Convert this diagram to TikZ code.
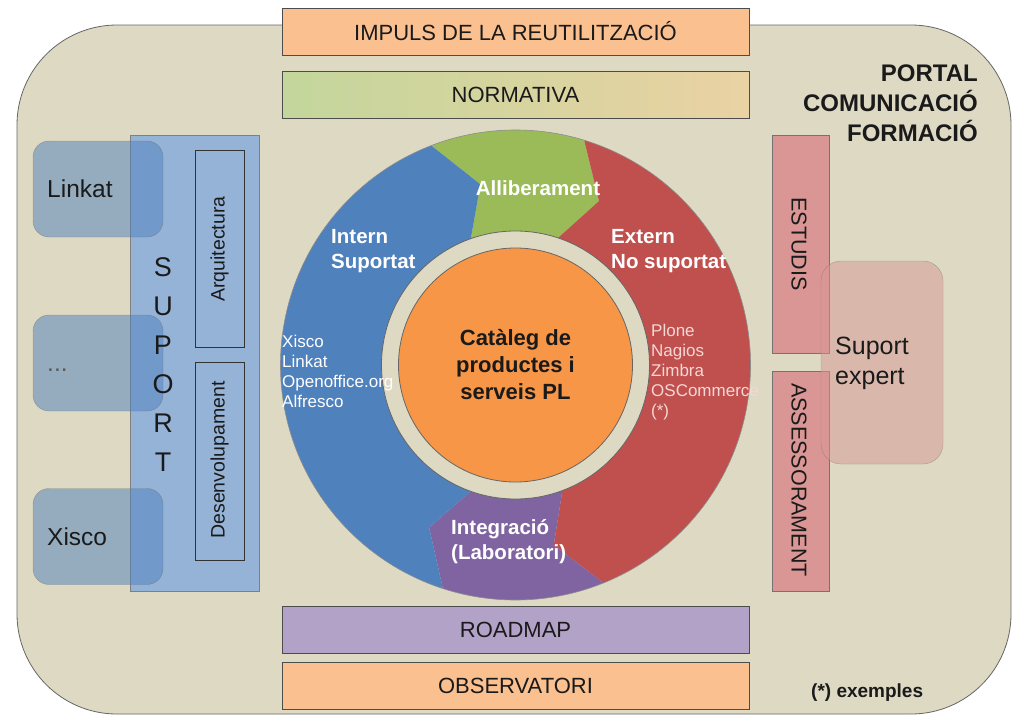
\documentclass[tikz,border=0pt]{standalone}
\usepackage{fontspec}
\setmainfont{Liberation Sans}
\usetikzlibrary{calc}
\definecolor{bg}{HTML}{DDD9C3}
\definecolor{lorange}{HTML}{FAC090}
\definecolor{lgreen}{HTML}{C3D69B}
\definecolor{lgreenM}{HTML}{CFD69F}
\definecolor{lgreenR}{HTML}{EAD2A3}
\definecolor{lavender}{HTML}{B3A2C7}
\definecolor{lblue}{HTML}{95B3D7}
\definecolor{blueA}{HTML}{4F81BD}
\definecolor{greenA}{HTML}{9BBB59}
\definecolor{redA}{HTML}{C0504D}
\definecolor{purpleA}{HTML}{8064A2}
\definecolor{orangeA}{HTML}{F79646}
\definecolor{pinkA}{HTML}{D99694}
\definecolor{palepink}{HTML}{F4D7D6}
\definecolor{ink}{HTML}{1A1A1A}
\def\Ro{235pt}\def\Rm{184pt}\def\Ri{128pt}
\newcommand{\ringseg}[3]{%
  \fill[#1] ($(C)+(#2:\Ro)$) arc[start angle=#2, end angle=#3, radius=\Ro]
    -- ($(C)+({#3-10}:\Rm)$) -- ($(C)+(#3:\Ri)$)
    arc[start angle=#3, end angle=#2, radius=\Ri]
    -- ($(C)+({#2-10}:\Rm)$) -- cycle;}
\tikzset{
  bar/.style={draw=black!70, line width=1pt, minimum width=467pt, minimum height=47pt,
    inner sep=0pt, font=\fontsize{22}{26}\selectfont, text=ink},
  sbox/.style={rounded corners=16pt, fill=blueA, fill opacity=0.5, draw=black!60,
    draw opacity=0.5, minimum width=130pt, minimum height=96pt, inner sep=0pt},
  slbl/.style={anchor=base west, font=\fontsize{24.5}{28}\selectfont, text=ink, inner sep=0pt},
  vbox/.style={draw=black!80, line width=0.8pt, minimum width=49pt, inner sep=0pt},
  vtxt/.style={font=\fontsize{19.5}{22}\selectfont, text=ink, inner sep=0pt},
  pbox/.style={fill=pinkA, draw=black!55, line width=0.8pt, minimum width=57pt, inner sep=0pt},
  ptxt/.style={font=\fontsize{21.5}{24}\selectfont, text=ink, inner sep=0pt, rotate=-90},
  letter/.style={font=\fontsize{27}{30}\selectfont, text=ink, inner sep=0pt},
  wl/.style={text=white, font=\bfseries\fontsize{20.5}{25}\selectfont, align=left, inner sep=0pt},
  wlist/.style={font=\fontsize{17}{20}\selectfont, align=left, inner sep=0pt}
}
\begin{document}
\begin{tikzpicture}[x=1pt,y=-1pt]
\useasboundingbox (0,0) rectangle (1015,715);
\fill[white] (0,0) rectangle (1015,715);
% outer portal
\draw[fill=bg, draw=black!60, line width=0.8pt, rounded corners=100pt] (17,25) rectangle (1011,714);

% horizontal bars
\node[bar, fill=lorange] (impuls) at (515.5,31.5) {IMPULS DE LA REUTILITZACIÓ};
\node[bar, left color=lgreen, middle color=lgreenM, right color=lgreenR] (normativa) at (515.5,94.5) {NORMATIVA};
\node[bar, fill=lavender] (roadmap) at (515.5,630) {ROADMAP};
\node[bar, fill=lorange] (observatori) at (515.5,685.5) {OBSERVATORI};

% portal title
\node[anchor=east, align=right, font=\bfseries\fontsize{24}{30}\selectfont, text=ink, inner sep=0pt]
  (portal) at (978,103) {PORTAL\\COMUNICACIÓ\\FORMACIÓ};

% SUPORT panel
\node[fill=lblue, draw=black!50, line width=0.8pt, minimum width=129pt, minimum height=456pt, inner sep=0pt]
  (suport) at (194.5,363) {};
\node[vbox, minimum height=197pt] (arq) at (219.5,248.5) {};
\node[vtxt, rotate=90] (arqT) at (219.5,249) {Arquitectura};
\node[vbox, minimum height=198pt] (des) at (219.5,461) {};
\node[vtxt, rotate=90] (desT) at (219.5,460) {Desenvolupament};

% left boxes
\node[sbox] (linkat) at (98,189) {};
\node[sbox] (dots) at (98,363) {};
\node[sbox] (xisco) at (98,536.5) {};
\node[slbl] (linkatT) at (47,197.5) {Linkat};
\node[slbl, text=black!65] (dotsT) at (47,371.5) {...};
\node[slbl] (xiscoT) at (47,545) {Xisco};

% SUPORT letters
\node[letter] (l1) at (163,267) {S};
\node[letter] (l2) at (163,306) {U};
\node[letter] (l3) at (163,345) {P};
\node[letter] (l4) at (163,384) {O};
\node[letter] (l5) at (163,423) {R};
\node[letter] (l6) at (163,462) {T};

% right boxes
\node[pbox, minimum height=218pt] (estudis) at (800.5,244) {};
\node[ptxt] (estudisT) at (799,244) {ESTUDIS};
\node[pbox, minimum height=220pt] (assess) at (800.5,481) {};
\node[ptxt] (assessT) at (799,480) {ASSESSORAMENT};
\node[rounded corners=20pt, fill=pinkA, fill opacity=0.5, draw=black!55, draw opacity=0.5,
  minimum width=122pt, minimum height=203pt, inner sep=0pt] (expert) at (882,362.5) {};
\node[anchor=west, align=left, font=\fontsize{25}{30}\selectfont, text=ink, inner sep=0pt]
  (expertT) at (835,363) {Suport\\expert};

% cycle
\coordinate (C) at (515.5,365);
\ringseg{greenA}{111}{73}
\ringseg{redA}{73}{-68}
\ringseg{purpleA}{-68}{-108}
\ringseg{blueA}{-108}{-249}
\draw[black!45, line width=0.6pt] (C) circle[radius=235pt];
\draw[fill=bg, draw=black!60, line width=0.8pt] (C) circle[radius=134pt];
\node[circle, fill=orangeA, draw=black!60, line width=0.8pt, minimum size=234pt, inner sep=0pt] (cat) at (C) {};
\node[align=center, font=\bfseries\fontsize{22}{27}\selectfont, text=ink, inner sep=0pt]
  (catT) at (515.5,365) {Catàleg de\\productes i\\serveis PL};

\node[wl] (allib) at (538,188) {Alliberament};
\node[wl, anchor=west] (intern) at (331,251) {Intern\\Suportat};
\node[wl, anchor=west] (extern) at (611,251) {Extern\\No suportat};
\node[wl, anchor=west] (integ) at (451,542) {Integració\\(Laboratori)};
\node[wlist, anchor=west, text=white] (llist) at (282,371) {Xisco\\Linkat\\Openoffice.org\\Alfresco};
\node[wlist, anchor=west, text=palepink] (rlist) at (651,372) {Plone\\Nagios\\Zimbra\\OSCommerce\\(*)};

% footnote
\node[anchor=west, font=\bfseries\fontsize{19}{21}\selectfont, text=ink, inner sep=0pt]
  (exemples) at (811,693) {(*) exemples};
\end{tikzpicture}
\end{document}
